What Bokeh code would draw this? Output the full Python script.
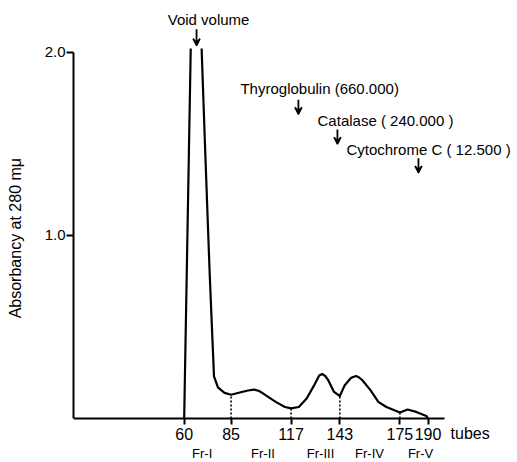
import math
from bokeh.plotting import figure
from bokeh.models import FixedTicker, Range1d, Arrow, VeeHead, LinearAxis, ColumnDataSource
from bokeh.core.properties import value
from bokeh.embed import file_html
from bokeh.resources import INLINE

nan = math.nan

# ---- data ----
tubes = [60, 63.5, nan, 69.3, 71.0, 73.6, 75.4, 75.9, 78.0, 81.5, 85, 90.7, 94, 97.3, 100,
         102.2, 108.8, 113.7, 117, 121.1, 125.3, 129.5, 132, 133.6, 135.2, 136.8, 139.9,
         143, 145.6, 149.0, 151.6, 153.3, 155.0, 159.3, 163.5, 167.8, 172.1, 175, 179.1,
         183.7, 189.1, 190]
absorbancy = [0, 2.02, nan, 2.02, 1.52, 0.79, 0.35, 0.23, 0.17, 0.14, 0.13, 0.145, 0.153,
              0.158, 0.150, 0.136, 0.091, 0.063, 0.055, 0.063, 0.109, 0.185, 0.235, 0.243,
              0.232, 0.209, 0.145, 0.123, 0.182, 0.222, 0.232, 0.224, 0.209, 0.155, 0.091,
              0.063, 0.045, 0.033, 0.049, 0.036, 0.014, 0.0]

x_ticks = [60, 85, 117, 143, 175, 190]
x_unit = "tubes"
y_ticks = [1.0, 2.0]
y_tick_labels = ["1.0", "2.0"]

frac_bounds = [85, 117, 143, 175]
frac_heights = [0.13, 0.055, 0.123, 0.033]

frac_names = ["Fr-I", "Fr-II", "Fr-III", "Fr-IV", "Fr-V"]
frac_centers = [69.6, 102.0, 132.7, 158.8, 186.0]

marker_names = ["Void volume", "Thyroglobulin (660.000)", "Catalase ( 240.000 )",
                "Cytochrome C ( 12.500 )"]

# ---- layout of annotations ----
marker_text_x = [73.0, 90.0, 131.1, 146.5]
marker_text_y = [2.18, 1.803, 1.628, 1.47]
marker_text_align = ["center", "left", "left", "left"]
marker_arrow_x = [66.6, 120.9, 141.7, 184.9]
marker_arrow_y0 = [2.125, 1.74, 1.577, 1.42]
marker_arrow_y1 = [2.035, 1.66, 1.497, 1.34]

FONT = "Liberation Sans"

p = figure(width=517, height=462, output_backend="svg", toolbar_location=None,
           x_range=Range1d(1, 237.7), y_range=Range1d(-0.2401, 2.2817),
           x_axis_location=None,
           min_border_left=73, min_border_right=0, min_border_top=0, min_border_bottom=0)
p.outline_line_color = None
p.xgrid.visible = False
p.ygrid.visible = False
p.background_fill_color = "white"
p.border_fill_color = "white"

# x axis sitting at absorbancy 0
xa = LinearAxis(fixed_location=0)
xa.bounds = (1, 199)
xa.ticker = FixedTicker(ticks=x_ticks)
xa.minor_tick_line_color = None
xa.major_tick_in = 0
xa.major_tick_out = 6
xa.major_tick_line_width = 2
xa.axis_line_width = 2
xa.major_label_standoff = 3
xa.major_label_text_font = FONT
xa.major_label_text_font_size = "16px"
xa.major_label_text_color = "black"
p.add_layout(xa, "below")

ya = p.yaxis[0]
ya.bounds = (0, 2.0)
ya.ticker = FixedTicker(ticks=y_ticks)
ya.major_label_overrides = {t: s for t, s in zip(y_ticks, y_tick_labels)}
ya.minor_tick_line_color = None
ya.major_tick_in = 0
ya.major_tick_out = 7
ya.major_tick_line_width = 2
ya.axis_line_width = 2
ya.major_label_standoff = 1
ya.major_label_text_font = FONT
ya.major_label_text_font_size = "15px"
ya.major_label_text_color = "black"
ya.axis_label = "Absorbancy  at  280  m\u03bc"
ya.axis_label_text_font = FONT
ya.axis_label_text_font_style = "normal"
ya.axis_label_text_font_size = "16px"
ya.axis_label_text_color = "black"
ya.axis_label_standoff = 18

# elution curve
p.line(tubes, absorbancy, line_color="black", line_width=2.2, line_join="round")

# fraction boundaries (dotted)
p.segment(x0=frac_bounds, y0=[0] * len(frac_bounds), x1=frac_bounds, y1=frac_heights,
          line_color="black", line_width=1.6, line_dash="2 2")

# marker texts and arrows
src = ColumnDataSource(dict(x=marker_text_x, y=marker_text_y, t=marker_names,
                            a=marker_text_align))
p.text(x="x", y="y", text="t", text_align="a", source=src, text_baseline="middle",
       text_font=value(FONT), text_font_size="15px", text_color="black")

for x, y0, y1 in zip(marker_arrow_x, marker_arrow_y0, marker_arrow_y1):
    p.add_layout(Arrow(x_start=x, y_start=y0, x_end=x, y_end=y1, line_width=1.8,
                       line_color="black",
                       end=VeeHead(size=7, fill_color="black", line_color="black",
                                   line_width=1.5)))

# unit name and fraction names below the axis
p.text(x=[202], y=[-0.082], text=[x_unit], text_align="left", text_baseline="middle",
       text_font=value(FONT), text_font_size="16px", text_color="black")
p.text(x=frac_centers, y=[-0.192] * len(frac_names), text=frac_names, text_align="center",
       text_baseline="middle", text_font=value(FONT), text_font_size="13px",
       text_color="black")

open("out.html", "w").write(file_html(p, INLINE))
